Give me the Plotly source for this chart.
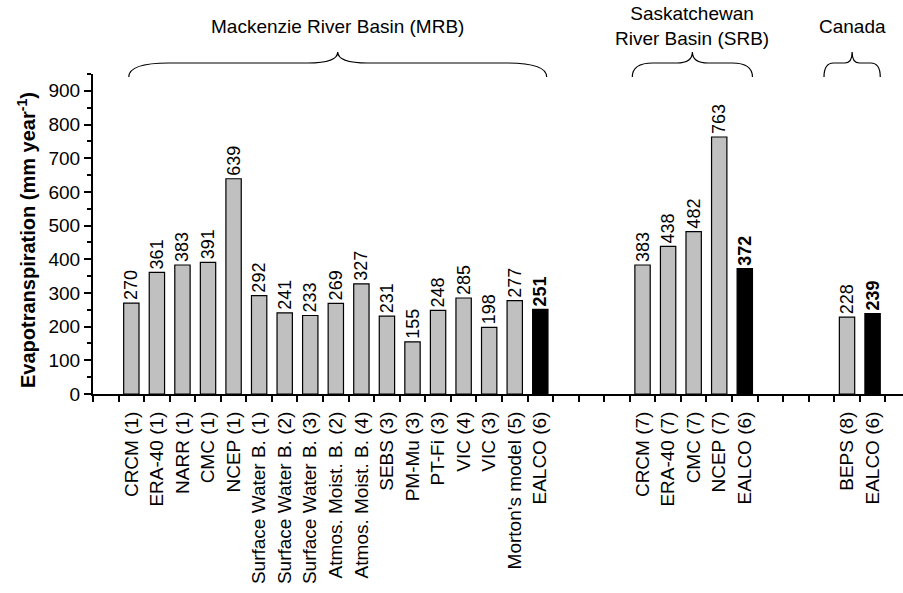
import plotly.graph_objects as go

# ---- data ----
mrb_labels = ["CRCM (1)", "ERA-40 (1)", "NARR (1)", "CMC (1)", "NCEP (1)",
              "Surface Water B. (1)", "Surface Water B. (2)", "Surface Water B. (3)",
              "Atmos. Moist. B. (2)", "Atmos. Moist. B. (4)", "SEBS (3)", "PM-Mu (3)",
              "PT-Fi (3)", "VIC (4)", "VIC (3)", "Morton's model (5)", "EALCO (6)"]
mrb_values = [270, 361, 383, 391, 639, 292, 241, 233, 269, 327, 231, 155, 248, 285, 198, 277, 251]

srb_labels = ["CRCM (7)", "ERA-40 (7)", "CMC (7)", "NCEP (7)", "EALCO (6)"]
srb_values = [383, 438, 482, 763, 372]

can_labels = ["BEPS (8)", "EALCO (6)"]
can_values = [228, 239]

group_titles = ["Mackenzie River Basin (MRB)",
                "Saskatchewan<br>River Basin (SRB)",
                "Canada"]
y_ticks = list(range(0, 901, 100))

# ---- layout constants ----
W, H = 903, 593
LEFT_S, TOP_S, BOT_S, RIGHT_S = 93, 74, 394, 903   # plot area in screen px
ML, MT = LEFT_S, TOP_S
MR = W - RIGHT_S
MB = H - BOT_S
PW, PH = RIGHT_S - LEFT_S, BOT_S - TOP_S
SLOT_PX = 25.56
X0 = -0.5
X1 = X0 + PW / SLOT_PX
Y_RANGE = [0, 950]
LEAD, GAP = 1, 3
FONT = "Liberation Sans, Arial, sans-serif"
GRAY = "#c0c0c0"

groups = [(mrb_labels, mrb_values), (srb_labels, srb_values), (can_labels, can_values)]
# brace extents relative to first/last bar of each group (slot units)
brace_pad = [(-0.1, 0.25), (-0.4, 0.3), (-0.9, 0.3)]

xs, labels, values, spans = [], [], [], []
pos = LEAD
for lab, val in groups:
    idx = list(range(pos, pos + len(lab)))
    xs += idx
    labels += lab
    values += val
    spans.append((idx[0], idx[-1]))
    pos += len(lab) + GAP

is_ealco = [l.startswith("EALCO") for l in labels]
colors = ["black" if e else GRAY for e in is_ealco]
texts = [f"<b>{v}</b>" if e else str(v) for v, e in zip(values, is_ealco)]

fig = go.Figure()
fig.add_trace(go.Bar(
    x=xs, y=values, width=0.6,
    marker=dict(color=colors, line=dict(color="black", width=1.2)),
    text=texts, textposition="outside", textangle=-90,
    textfont=dict(family=FONT, size=18, color="black"),
    constraintext="none", cliponaxis=False, hoverinfo="skip",
))


def xp(v):
    return (v - X0) / (X1 - X0)


def yp(py):
    return (BOT_S - py) / PH


shapes, annotations = [], []
for (a, b), (pl, pr), title in zip(spans, brace_pad, group_titles):
    xl, xr = a + pl, b + pr
    xm = (xl + xr) / 2
    wpx = (xr - xl) * SLOT_PX
    r = min(40, 0.17 * wpx) / PW
    r2 = min(30, 0.13 * wpx) / PW
    L, R, M = xp(xl), xp(xr), xp(xm)
    yE, yF, yT = yp(77), yp(63), yp(52)
    path = (f"M {L},{yE} Q {L},{yF} {L + r},{yF} L {M - r2},{yF} "
            f"Q {M},{yF} {M},{yT} Q {M},{yF} {M + r2},{yF} "
            f"L {R - r},{yF} Q {R},{yF} {R},{yE}")
    shapes.append(dict(type="path", path=path, xref="paper", yref="paper",
                       line=dict(color="black", width=1.2)))
    annotations.append(dict(text=title, x=M, y=yp(26), xref="paper", yref="paper",
                            showarrow=False, xanchor="center", yanchor="middle",
                            font=dict(family=FONT, size=19, color="black")))

annotations.append(dict(
    text="<b>Evapotranspiration (mm year<sup>-1</sup>)</b>",
    x=(26 - LEFT_S) / PW, y=yp(240), xref="paper", yref="paper", textangle=-90,
    showarrow=False, xanchor="center", yanchor="middle",
    font=dict(family=FONT, size=20, color="black")))

fig.update_layout(
    width=W, height=H,
    margin=dict(l=ML, r=MR, t=MT, b=MB, pad=0, autoexpand=False),
    paper_bgcolor="white", plot_bgcolor="white",
    showlegend=False, hovermode=False,
    font=dict(family=FONT, size=19, color="black"),
    shapes=shapes, annotations=annotations,
    xaxis=dict(
        range=[X0, X1], showgrid=False, zeroline=False, automargin=False,
        showline=True, linecolor="black", linewidth=2,
        tickmode="array", tickvals=xs, ticktext=labels, tickangle=-90,
        ticks="outside", ticklen=8, tickcolor="rgba(0,0,0,0)",
        tickfont=dict(family=FONT, size=19, color="black"),
        minor=dict(tickmode="linear", tick0=0.5, dtick=1, ticks="outside",
                   ticklen=6, tickwidth=2, tickcolor="black", showgrid=False),
    ),
    yaxis=dict(
        range=Y_RANGE, showgrid=False, zeroline=False, automargin=False,
        showline=True, linecolor="black", linewidth=2,
        tickmode="array", tickvals=y_ticks,
        ticks="outside", ticklen=7, tickwidth=2, tickcolor="black",
        tickfont=dict(family=FONT, size=19, color="black"),
        minor=dict(tickmode="linear", tick0=0, dtick=50, ticks="outside",
                   ticklen=4, tickwidth=2, tickcolor="black", showgrid=False),
    ),
)

fig.write_html("out.html",
               config={"displayModeBar": False, "staticPlot": True},
               post_script="document.body.style.margin='0';document.body.style.overflow='hidden';")
